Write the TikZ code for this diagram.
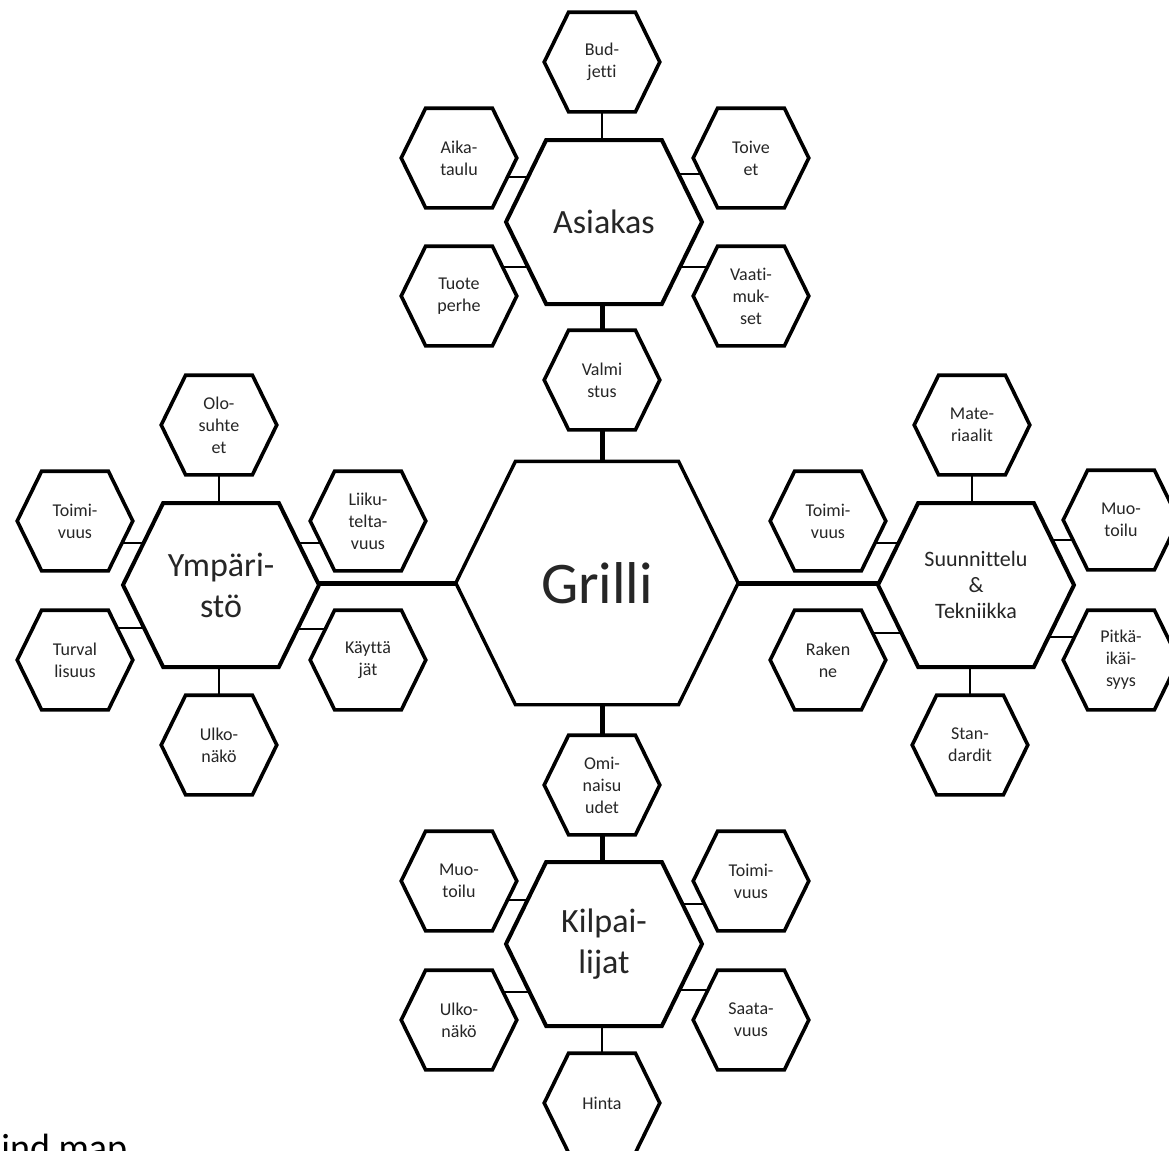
\documentclass[tikz,border=0pt]{standalone}
\usepackage{fontspec}
\setmainfont{Carlito}[Ligatures=NoCommon]
\usetikzlibrary{calc}
\pgfdeclarelayer{bg}
\pgfsetlayers{bg,main}
\makeatletter
\newdimen\hxA \newdimen\hxB \newdimen\hyA \newdimen\hyB
\newdimen\hyM \newdimen\hxI \newdimen\hxC \newdimen\hxD
\pgfdeclareshape{flathex}{%
  \inheritsavedanchors[from=rectangle]%
  \inheritanchorborder[from=rectangle]%
  \inheritanchor[from=rectangle]{center}%
  \inheritanchor[from=rectangle]{north}%
  \inheritanchor[from=rectangle]{south}%
  \inheritanchor[from=rectangle]{east}%
  \inheritanchor[from=rectangle]{west}%
  \inheritanchor[from=rectangle]{mid}%
  \inheritanchor[from=rectangle]{base}%
  \backgroundpath{%
    \southwest \hxA=\pgf@x \hyA=\pgf@y
    \northeast \hxB=\pgf@x \hyB=\pgf@y
    \hyM=0.5\hyA \advance\hyM by 0.5\hyB
    \hxI=\hyB \advance\hxI by -\hyA \hxI=0.245\hxI
    \hxC=\hxA \advance\hxC by \hxI
    \hxD=\hxB \advance\hxD by -\hxI
    \pgfpathmoveto{\pgfqpoint{\hxA}{\hyM}}%
    \pgfpathlineto{\pgfqpoint{\hxC}{\hyB}}%
    \pgfpathlineto{\pgfqpoint{\hxD}{\hyB}}%
    \pgfpathlineto{\pgfqpoint{\hxB}{\hyM}}%
    \pgfpathlineto{\pgfqpoint{\hxD}{\hyA}}%
    \pgfpathlineto{\pgfqpoint{\hxC}{\hyA}}%
    \pgfpathclose
  }%
}
\makeatother
\tikzset{
  hexbase/.style={shape=flathex, draw=black, fill=white, inner sep=0pt,
    align=center, text=black!85, line join=miter},
  sat/.style={hexbase, line width=1.8pt, minimum width=56pt, minimum height=48pt,
    font=\fontsize{9}{11}\selectfont},
  mainhex/.style={hexbase, line width=2pt, minimum width=96pt, minimum height=80pt,
    font=\fontsize{17}{20.5}\selectfont},
  grillihex/.style={hexbase, line width=1.7pt, minimum width=139.5pt, minimum height=120pt,
    font=\fontsize{29.5}{35}\selectfont},
  thinc/.style={draw=black, line width=1.3pt},
  thickc/.style={draw=black, line width=2.5pt}
}
\begin{document}
\begin{tikzpicture}[x=0.5pt, y=-0.5pt]
\useasboundingbox (0,0) rectangle (1169,1151);
\clip (0,0) rectangle (1169,1151);

% centre
\node[grillihex] (grilli) at (597,583) {Grilli};

% Asiakas group
\node[mainhex] (asiakas) at (604,222) {Asiakas};
\node[sat] (bud) at (602,62) {Bud-\\jetti};
\node[sat] (aika) at (459,158) {Aika-\\taulu};
\node[sat] (toive) at (751,158) {Toive\\et};
\node[sat] (tuote) at (459,296) {Tuote\\perhe};
\node[sat] (vaati) at (751,296) {Vaati-\\muk-\\set};
\node[sat] (valmi) at (602,380) {Valmi\\stus};

% Ympäristö group
\node[mainhex] (ymp) at (221,585) {Ympäri-\\stö};
\node[sat] (olo) at (219,425) {Olo-\\suhte\\et};
\node[sat] (toimiy) at (75,521) {Toimi-\\vuus};
\node[sat] (liiku) at (368,521) {Liiku-\\telta-\\vuus};
\node[sat] (turval) at (75,660) {Turval\\lisuus};
\node[sat] (kaytta) at (368,660) {Käyttä\\jät};
\node[sat] (ulkoy) at (219,745) {Ulko-\\näkö};

% Suunnittelu group
\node[mainhex, font=\fontsize{11}{13}\selectfont] (suun) at (976,585) {Suunnittelu\\\&\\Tekniikka};
\node[sat] (mate) at (972,425) {Mate-\\riaalit};
\node[sat] (toimis) at (828,521) {Toimi-\\vuus};
\node[sat] (muos) at (1121,520) {Muo-\\toilu};
\node[sat] (raken) at (828,660) {Raken\\ne};
\node[sat] (pitka) at (1121,660) {Pitkä-\\ikäi-\\syys};
\node[sat] (stan) at (970,745) {Stan-\\dardit};

% Kilpailijat group
\node[mainhex] (kilp) at (604,944) {Kilpai-\\lijat};
\node[sat] (omin) at (602,785) {Omi-\\naisu\\udet};
\node[sat] (muok) at (459,881) {Muo-\\toilu};
\node[sat] (toimik) at (751,881) {Toimi-\\vuus};
\node[sat] (ulkok) at (459,1020) {Ulko-\\näkö};
\node[sat] (saata) at (751,1020) {Saata-\\vuus};
\node[sat] (hinta) at (602,1103) {Hinta};

% caption (cut off in the reference)
\node[anchor=base west, inner sep=0pt, font=\fontsize{19}{22}\selectfont, text=black] (cap) at (1,1160) {ind map};

\begin{pgfonlayer}{bg}
  \fill[white] (0,0) rectangle (1169,1151);
  % thick connectors
  \draw[thickc] (valmi.center) -- (valmi.center |- asiakas.center);
  \draw[thickc] (valmi.center) -- (valmi.center |- grilli.center);
  \draw[thickc] (grilli.center) -- (grilli.center -| ymp.center);
  \draw[thickc] (grilli.center) -- (grilli.center -| suun.center);
  \draw[thickc] (omin.center) -- (omin.center |- grilli.center);
  \draw[thickc] (omin.center) -- (omin.center |- kilp.center);
  % Asiakas
  \draw[thinc] (bud.center) -- (bud.center |- asiakas.center);
  \draw[thinc] (aika.center |- 0,177) -- (asiakas.center |- 0,177);
  \draw[thinc] (toive.center |- 0,174) -- (asiakas.center |- 0,174);
  \draw[thinc] (tuote.center |- 0,267) -- (asiakas.center |- 0,267);
  \draw[thinc] (vaati.center |- 0,267) -- (asiakas.center |- 0,267);
  % Ympäristö
  \draw[thinc] (olo.center) -- (olo.center |- ymp.center);
  \draw[thinc] (ulkoy.center) -- (ulkoy.center |- ymp.center);
  \draw[thinc] (toimiy.center |- 0,543) -- (ymp.center |- 0,543);
  \draw[thinc] (liiku.center |- 0,543) -- (ymp.center |- 0,543);
  \draw[thinc] (turval.center |- 0,628) -- (ymp.center |- 0,628);
  \draw[thinc] (kaytta.center |- 0,629) -- (ymp.center |- 0,629);
  % Suunnittelu
  \draw[thinc] (mate.center) -- (mate.center |- suun.center);
  \draw[thinc] (stan.center) -- (stan.center |- suun.center);
  \draw[thinc] (toimis.center |- 0,543) -- (suun.center |- 0,543);
  \draw[thinc] (muos.center |- 0,540) -- (suun.center |- 0,540);
  \draw[thinc] (raken.center |- 0,633) -- (suun.center |- 0,633);
  \draw[thinc] (pitka.center |- 0,637) -- (suun.center |- 0,637);
  % Kilpailijat
  \draw[thinc] (hinta.center) -- (hinta.center |- kilp.center);
  \draw[thinc] (muok.center |- 0,900) -- (kilp.center |- 0,900);
  \draw[thinc] (toimik.center |- 0,904) -- (kilp.center |- 0,904);
  \draw[thinc] (ulkok.center |- 0,992) -- (kilp.center |- 0,992);
  \draw[thinc] (saata.center |- 0,990) -- (kilp.center |- 0,990);
\end{pgfonlayer}
\end{tikzpicture}
\end{document}
